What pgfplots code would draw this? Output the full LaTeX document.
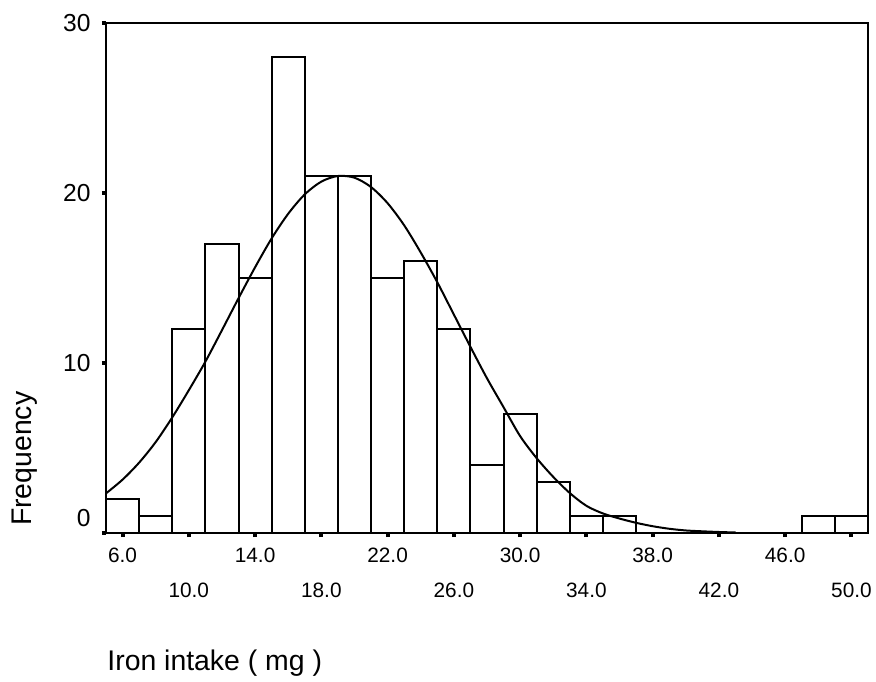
\documentclass[border=0pt]{standalone}
\usepackage{pgfplots}
\pgfplotsset{compat=1.18}
\usepackage{fontspec}
\setmainfont{Liberation Sans}

% histogram counts, bins of width 2 (left edges), last row closes the interval
\pgfplotstableread{
x  n
5  2
7  1
9  12
11 17
13 15
15 28
17 21
19 21
21 15
23 16
25 12
27 4
29 7
31 3
33 1
35 1
37 0
39 0
41 0
43 0
45 0
47 1
49 1
51 0
}\bins

% fitted normal curve
\pgfplotstableread{
x  f
5  2.33
6  3.14
7  4.14
8  5.35
9  6.80
10 8.40
11 10.08
12 11.93
13 13.81
14 15.63
15 17.33
16 18.78
17 19.92
18 20.67
19 21.00
20 20.90
21 20.35
22 19.40
23 18.10
24 16.50
25 14.75
26 12.85
27 10.95
28 9.10
29 7.40
30 5.70
31 4.40
32 3.30
33 2.35
34 1.60
35 1.15
36 0.85
37 0.60
38 0.40
39 0.25
40 0.15
41 0.10
42 0.06
43 0.03
}\curve

\begin{document}
\begin{tikzpicture}
\begin{axis}[
  scale only axis,
  width=381pt, height=255pt,
  xmin=5, xmax=51,
  ymin=0, ymax=30,
  axis line style={line width=1pt},
  tick pos=left,
  tick align=outside,
  major tick length=2pt,
  tick style={line width=2pt, black},
  xtick={6,14,22,30,38,46},
  xticklabels={6.0,14.0,22.0,30.0,38.0,46.0},
  extra x ticks={10,18,26,34,42,50},
  extra x tick labels={10.0,18.0,26.0,34.0,42.0,50.0},
  extra x tick style={grid=none, xticklabel style={yshift=-17.5pt}},
  xticklabel style={font=\fontsize{10.4}{12}\selectfont, anchor=north, inner sep=0pt, yshift=-5.5pt},
  ytick={10,20,30},
  yticklabels={10,20,30},
  extra y ticks={0},
  extra y tick labels={0},
  extra y tick style={grid=none, yticklabel style={yshift=7.5pt}},
  yticklabel style={font=\fontsize{12.3}{14}\selectfont, anchor=east, inner sep=0pt, xshift=-5.5pt},
  clip=false,
]
\addplot[ybar interval, draw=black, fill=white, line width=1pt] table[x=x, y=n] {\bins};
\addplot[black, line width=1pt, smooth, no marks] table[x=x, y=f] {\curve};
\end{axis}
\node[rotate=90, anchor=base west, font=\fontsize{14.2}{16}\selectfont] at (-37pt,0pt) {Frequency};
\node[anchor=base west, font=\fontsize{14.2}{16}\selectfont, inner sep=0pt] at (0.5pt,-68.5pt) {Iron intake ( mg )};
\pgfresetboundingbox
\path (-53pt,-74pt) rectangle (385pt,266.5pt);
\end{tikzpicture}
\end{document}
